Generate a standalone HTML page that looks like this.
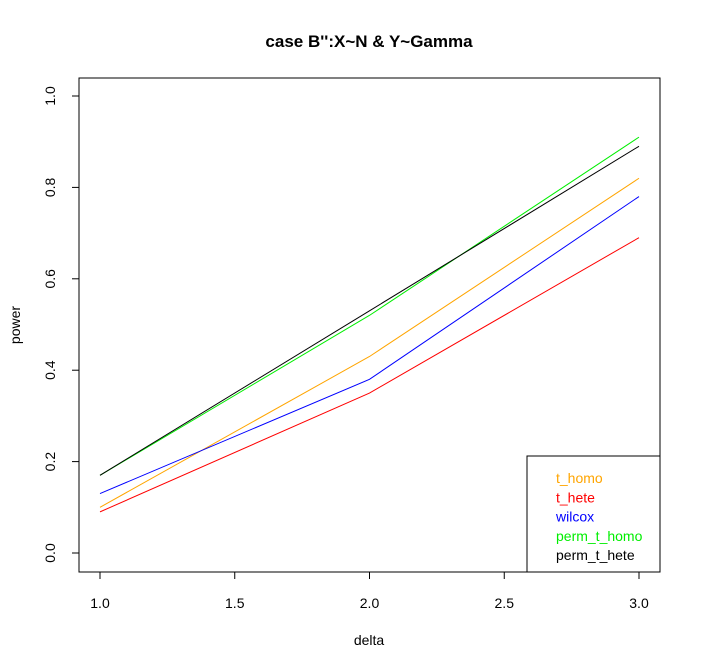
<!DOCTYPE html>
<html><head><meta charset="utf-8"><style>
body{margin:0;background:#fff}
svg{display:block;font-family:"Liberation Sans",Arial,sans-serif}
</style></head><body>
<svg id="chart" width="701" height="670">
<text x="369" y="47" text-anchor="middle" font-size="17" font-weight="bold">case B'':X~N &amp; Y~Gamma</text>
<rect x="79" y="78" width="581" height="494" fill="none" stroke="#000"/>
<g id="xaxis"></g>
<g id="yaxis"></g>
<text x="369" y="645" text-anchor="middle" font-size="14">delta</text>
<text x="0" y="0" transform="translate(20,325) rotate(-90)" text-anchor="middle" font-size="14">power</text>
<g id="series"></g>
<rect x="527" y="456" width="133" height="116" fill="#fff" stroke="#000"/>
<g id="legend"></g>
</svg>
<script>
const deltas=[1,2,3];
const names=["t_homo","t_hete","wilcox","perm_t_homo","perm_t_hete"];
const colors=["orange","red","blue","#00ee00","black"];
const tHomo=[0.10,0.43,0.82];
const tHete=[0.09,0.35,0.69];
const wilcox=[0.13,0.38,0.78];
const permTHomo=[0.17,0.52,0.91];
const permTHete=[0.17,0.53,0.89];
const xTicks=[1.0,1.5,2.0,2.5,3.0];
const yTicks=[0.0,0.2,0.4,0.6,0.8,1.0];
const allSeries=[tHomo,tHete,wilcox,permTHomo,permTHete];
const NS="http://www.w3.org/2000/svg";
const sx=v=>100+(v-1)*269.5;
const sy=v=>553-v*457;
function mk(t,a,p){const e=document.createElementNS(NS,t);for(const k in a)e.setAttribute(k,a[k]);p.appendChild(e);return e;}
const xa=document.getElementById('xaxis');
mk('line',{x1:sx(1),x2:sx(3),y1:572,y2:572,stroke:'#000'},xa);
xTicks.forEach(t=>{
 const l=mk('line',{x1:sx(t),x2:sx(t),y1:572,y2:579,stroke:'#000'},xa);
 
 
 const tx=mk('text',{x:sx(t),y:608,'text-anchor':'middle','font-size':14},xa);
 tx.textContent=t.toFixed(1);
 
 
});
const ya=document.getElementById('yaxis');
mk('line',{x1:79,x2:79,y1:sy(0),y2:sy(1),stroke:'#000'},ya);
yTicks.forEach(t=>{
 const l=mk('line',{x1:72,x2:79,y1:sy(t),y2:sy(t),stroke:'#000'},ya);
 
 
 const tx=mk('text',{x:0,y:0,transform:`translate(55,${sy(t)}) rotate(-90)`,'text-anchor':'middle','font-size':14},ya);
 tx.textContent=t.toFixed(1);
 
 
});
const sg=document.getElementById('series');
allSeries.forEach((s,i)=>{
 const p=mk('polyline',{points:s.map((v,j)=>sx(deltas[j])+','+sy(v)).join(' '),fill:'none',stroke:colors[i],'stroke-width':1},sg);
 
 
});
const lg=document.getElementById('legend');
names.forEach((n,i)=>{
 const tx=mk('text',{x:556,y:483+i*19.3,'font-size':14,fill:colors[i]},lg);
 tx.textContent=n;
 
 
});
</script>
</body></html>
